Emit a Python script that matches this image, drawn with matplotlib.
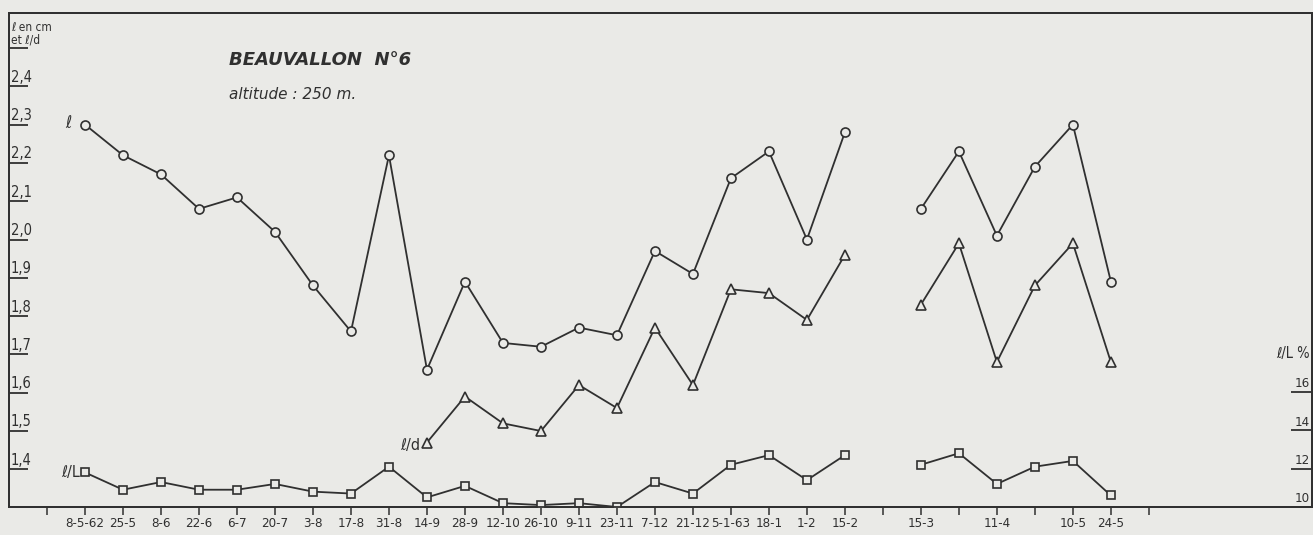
import numpy as np
import matplotlib.pyplot as plt
from matplotlib.transforms import blended_transform_factory

nan = np.nan

# fortnightly sampling dates, one tick every 14 days
dates = ["", "8-5-62", "25-5", "8-6", "22-6", "6-7", "20-7", "3-8", "17-8",
         "31-8", "14-9", "28-9", "12-10", "26-10", "9-11", "23-11", "7-12",
         "21-12", "5-1-63", "18-1", "1-2", "15-2", "", "15-3", "", "11-4",
         "", "10-5", "24-5", ""]

# measurements from 8-5-62 to 24-5 (no reading on 1-3)
sample_idx = list(range(1, 29))
l_cm = [2.30, 2.22, 2.17, 2.08, 2.11, 2.02, 1.88, 1.76, 2.22, 1.66, 1.89,
        1.73, 1.72, 1.77, 1.75, 1.97, 1.91, 2.16, 2.23, 2.00, 2.28, nan,
        2.08, 2.23, 2.01, 2.19, 2.30, 1.89]
l_d = [nan] * 9 + [1.47, 1.59, 1.52, 1.50, 1.62, 1.56, 1.77, 1.62, 1.87,
                   1.86, 1.79, 1.96, nan, 1.83, 1.99, 1.68, 1.88, 1.99, 1.68]
l_L = [11.8, 10.9, 11.3, 10.9, 10.9, 11.2, 10.8, 10.7, 12.1, 10.5, 11.1,
       10.2, 10.1, 10.2, 10.0, 11.3, 10.7, 12.2, 12.7, 11.4, 12.7, nan,
       12.2, 12.8, 11.2, 12.1, 12.4, 10.6]

left_ticks = [1.4, 1.5, 1.6, 1.7, 1.8, 1.9, 2.0, 2.1, 2.2, 2.3, 2.4]
right_ticks = [10, 12, 14, 16]

paper = "#eaeae7"
ink = "#303030"

plt.rcParams["font.family"] = ["DejaVu Sans"]
plt.rcParams["font.stretch"] = "condensed"

fig = plt.figure(figsize=(13.13, 5.35), dpi=100, facecolor=paper)
ax = fig.add_axes([9 / 1313, 1 - 507 / 535, 1302.5 / 1313, 494 / 535])
ax.set_facecolor(paper)
ax.set_xlim(-1.0, 33.28)
ax.set_ylim(1.3016, 2.5914)

ax2 = ax.twinx()
ax2.set_ylim(10, 35.73)

for a in (ax, ax2):
    for s in a.spines.values():
        s.set_color(ink)
        s.set_linewidth(1.3)

line_kw = dict(color=ink, lw=1.3, markersize=6.5, markeredgewidth=1.2,
               markerfacecolor=paper, markeredgecolor=ink)
ax.plot(sample_idx, l_cm, marker="o", **line_kw)
ax.plot(sample_idx, l_d, marker="^", **line_kw)
ax2.plot(sample_idx, l_L, marker="s", **dict(line_kw, markersize=5.5))

# x axis: short ticks below the line
ax.set_xticks(range(len(dates)))
ax.set_xticklabels(dates, fontsize=9.5, color=ink, stretch="condensed")
ax.tick_params(axis="x", direction="out", length=6, width=1.1, pad=1,
               color=ink)

# left scale: underlined values written inside the frame
ax.set_yticks(left_ticks + [2.5])
ax.set_yticklabels([])
ax.tick_params(axis="y", direction="in", length=14, width=1.3, color=ink)
tl = blended_transform_factory(ax.transAxes, ax.transData)
for v in left_ticks:
    ax.text(0.0015, v + 0.004, f"{v:.1f}".replace(".", ","), transform=tl,
            fontsize=10.5, color=ink, ha="left", va="bottom",
            stretch="condensed")
ax.text(0.0015, 2.5 + 0.004, "ℓ en cm\net ℓ/d", transform=tl, fontsize=8.5,
        color=ink, ha="left", va="bottom", linespacing=0.95,
        stretch="condensed")

# right scale for l/L in %
ax2.set_yticks(right_ticks)
ax2.set_yticklabels([])
ax2.tick_params(axis="y", direction="in", length=15, width=1.3, color=ink)
tr = blended_transform_factory(ax2.transAxes, ax2.transData)
for v in right_ticks:
    ax2.text(0.9985, v + 0.08, str(v), transform=tr, fontsize=9.5,
             color=ink, ha="right", va="bottom", stretch="condensed")
ax2.text(0.9985, 17.6, "ℓ/L %", transform=tr, fontsize=10.5, color=ink,
         ha="right", va="bottom", stretch="condensed")

# series names next to their first point
ax.annotate("ℓ", (sample_idx[0], l_cm[0]), xytext=(-10, 1),
            textcoords="offset points", ha="right", va="center",
            fontsize=12, color=ink, style="italic")
first_d = next(i for i, v in enumerate(l_d) if not np.isnan(v))
ax.annotate("ℓ/d", (sample_idx[first_d], l_d[first_d]), xytext=(-5, -2),
            textcoords="offset points", ha="right", va="center",
            fontsize=11.5, color=ink, stretch="condensed")
ax2.annotate("ℓ/L", (sample_idx[0], l_L[0]), xytext=(-4, 0),
             textcoords="offset points", ha="right", va="center",
             fontsize=11.5, color=ink, stretch="condensed")

# station heading
ax.text(0.169, 0.905, "BEAUVALLON  N°6", transform=ax.transAxes,
        fontsize=13, fontweight="bold", style="italic", color=ink,
        stretch="normal", ha="left", va="center")
ax.text(0.169, 0.835, "altitude : 250 m.", transform=ax.transAxes,
        fontsize=11, style="italic", color=ink, stretch="normal",
        ha="left", va="center")

fig.savefig("out.png", dpi=100, facecolor=paper)
